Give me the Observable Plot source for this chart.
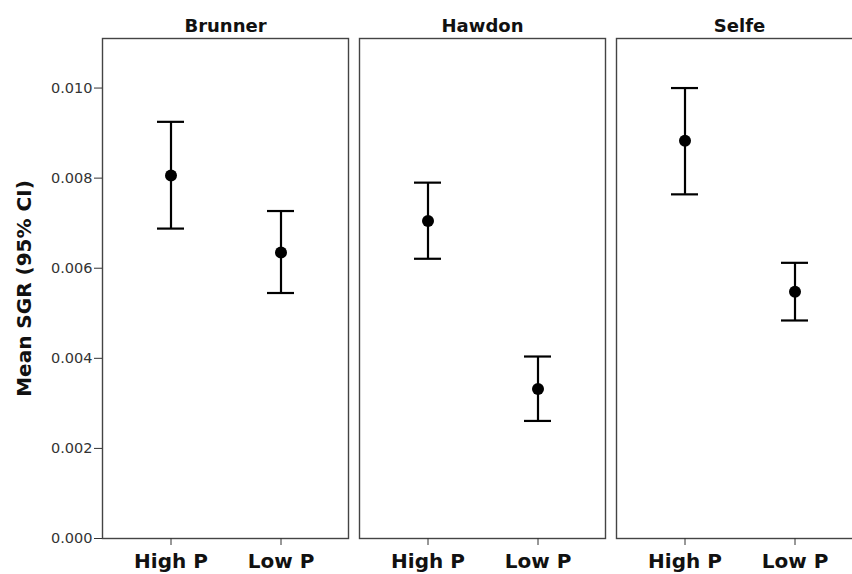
<!DOCTYPE html>
<html>
<head>
<meta charset="utf-8">
<script src="https://cdn.jsdelivr.net/npm/d3@7"></script>
<script src="https://cdn.jsdelivr.net/npm/@observablehq/plot@0.6"></script>
<style>
  html, body { margin: 0; padding: 0; background: #fff; }
  #wrap { width: 852px; height: 574px; overflow: hidden; }
  #wrap svg { max-width: none !important; }
</style>
</head>
<body>
<div id="wrap"></div>
<script>
const sites = ["Brunner", "Hawdon", "Selfe"];
const conditions = ["High P", "Low P"];
const rowSite = ["Brunner", "Brunner", "Hawdon", "Hawdon", "Selfe", "Selfe"];
const rowCond = ["High P", "Low P", "High P", "Low P", "High P", "Low P"];
const means = [0.00806, 0.00635, 0.00705, 0.00332, 0.00883, 0.00548];
const lower = [0.00688, 0.00545, 0.00621, 0.00261, 0.00764, 0.00484];
const upper = [0.00925, 0.00727, 0.00790, 0.00404, 0.01000, 0.00612];
const yTicks = [0, 0.002, 0.004, 0.006, 0.008, 0.010];
const yLabel = "Mean SGR (95% CI)";

const data = means.map((m, i) => ({site: rowSite[i], cond: rowCond[i], mean: m, lo: lower[i], hi: upper[i]}));

const chart = Plot.plot({
  width: 864,
  height: 574,
  marginLeft: 101,
  marginRight: 0,
  marginTop: 38,
  marginBottom: 36,
  style: {fontFamily: "DejaVu Sans", fontSize: "14px", color: "#222", background: "#fff", maxWidth: "none"},
  fx: {domain: sites, paddingInner: 0.0426, paddingOuter: 0, label: null},
  x: {type: "band", domain: conditions, paddingInner: 0.757, paddingOuter: 0.494, label: null},
  y: {domain: [0, 0.0111], label: null},
  marks: [
    Plot.frame({stroke: "#444", strokeWidth: 1.4}),
    Plot.axisFx({anchor: "top", tickSize: 0, tickPadding: 7, fontSize: 18, fontWeight: "bold", label: null, fill: "#111"}),
    Plot.axisX({tickSize: 7, tickPadding: 8, fontSize: 20, fontWeight: "bold", label: null, stroke: "#333", fill: "#111"}),
    Plot.axisY({ticks: yTicks, tickFormat: d3.format(".3f"), tickSize: 8, tickPadding: 2, fontSize: 14.5, stroke: "#333", fill: "#333",
      label: yLabel, labelAnchor: "center", labelArrow: "none", labelOffset: 86}),
    Plot.ruleX(data, {fx: "site", x: "cond", y1: "lo", y2: "hi", stroke: "#000", strokeWidth: 2.2}),
    Plot.tickY(data, {fx: "site", x: "cond", y: "hi", stroke: "#000", strokeWidth: 2.2}),
    Plot.tickY(data, {fx: "site", x: "cond", y: "lo", stroke: "#000", strokeWidth: 2.2}),
    Plot.dot(data, {fx: "site", x: "cond", y: "mean", r: 6, fill: "#000", stroke: "none"})
  ]
});

// style the y-axis title
const lab = chart.querySelector('[aria-label="y-axis label"]');
if (lab) {
  lab.setAttribute("font-size", 20);
  lab.setAttribute("font-weight", "bold");
  lab.setAttribute("fill", "#111");
}
document.getElementById("wrap").appendChild(chart);
</script>
</body>
</html>
